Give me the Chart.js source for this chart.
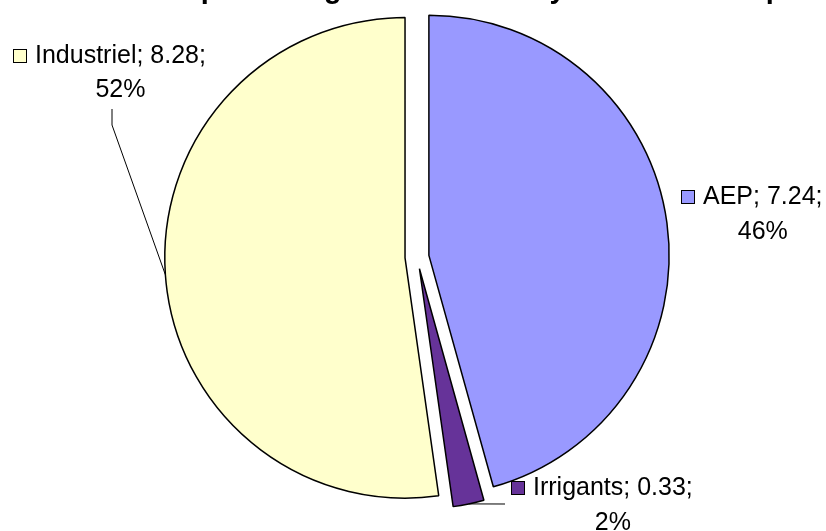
<!DOCTYPE html>
<html>
<head>
<meta charset="utf-8">
<script src="https://cdn.jsdelivr.net/npm/chart.js@4"></script>
<style>
  html, body { margin: 0; padding: 0; background: #fff; }
  #wrap { width: 826px; height: 531px; position: relative; }
</style>
</head>
<body>
<div id="wrap"><canvas id="pie" width="826" height="531"></canvas></div>
<script>
// Répartition par usage (Mm3)
const USAGES = ['AEP', 'Irrigants', 'Industriel'];
const VOLUMES = [7.24, 0.33, 8.28];
const COLORS = ['#9999FF', '#663399', '#FFFFCC'];
const TITLE = 'Répartition globale de la moyenne annuelle par usage';

const EXPLODE = 12; // px each slice is pulled out from the centre
const FONT = '25px "Liberation Sans", Arial, sans-serif';

// where each data label block sits (square top-left, text baseline)
const LABEL_LAYOUT = {
  'AEP':        { x: 681, y: 190, lineGap: 35 },
  'Irrigants':  { x: 511, y: 481, lineGap: 35 },
  'Industriel': { x: 13,  y: 49,  lineGap: 34 }
};

const total = VOLUMES.reduce((a, b) => a + b, 0);

// Excel style exploded pie: shift every arc along its bisector
const explodePlugin = {
  id: 'explode',
  afterDatasetUpdate(chart, args) {
    args.meta.data.forEach(arc => {
      const mid = (arc.startAngle + arc.endAngle) / 2;
      arc.x += Math.cos(mid) * EXPLODE;
      arc.y += Math.sin(mid) * EXPLODE;
    });
  }
};

const titlePlugin = {
  id: 'cutTitle',
  afterDraw(chart) {
    const ctx = chart.ctx;
    ctx.save();
    ctx.font = 'bold 28.8px "Liberation Sans", Arial, sans-serif';
    ctx.fillStyle = '#000';
    ctx.textBaseline = 'alphabetic';
    ctx.textAlign = 'left';
    ctx.fillText(TITLE, 164, -2.5);
    ctx.restore();
  }
};

const labelPlugin = {
  id: 'pieLabels',
  afterDraw(chart) {
    const ctx = chart.ctx;
    const arcs = chart.getDatasetMeta(0).data;
    ctx.save();
    ctx.font = FONT;
    ctx.fillStyle = '#000';
    ctx.strokeStyle = '#000';
    ctx.lineWidth = 1;

    arcs.forEach((arc, i) => {
      const name = USAGES[i];
      const lay = LABEL_LAYOUT[name];
      const mid = (arc.startAngle + arc.endAngle) / 2;
      const ex = arc.x + Math.cos(mid) * arc.outerRadius;
      const ey = arc.y + Math.sin(mid) * arc.outerRadius;

      // leader lines
      if (name === 'Industriel') {
        ctx.beginPath();
        ctx.moveTo(112, 109);
        ctx.lineTo(112, 125);
        ctx.lineTo(ex, ey);
        ctx.stroke();
      } else if (name === 'Irrigants') {
        ctx.beginPath();
        ctx.moveTo(ex, ey);
        ctx.lineTo(505, 504);
        ctx.stroke();
      }

      // legend key
      ctx.fillStyle = COLORS[i];
      ctx.fillRect(lay.x + 0.5, lay.y + 0.5, 13, 13);
      ctx.strokeRect(lay.x + 0.5, lay.y + 0.5, 13, 13);

      const line1 = `${name}; ${VOLUMES[i].toFixed(2)};`;
      const line2 = `${Math.round(VOLUMES[i] / total * 100)}%`;
      const tx = lay.x + 22;
      const base = lay.y + 14;
      const w1 = ctx.measureText(line1).width;

      ctx.fillStyle = '#000';
      ctx.textAlign = 'left';
      ctx.fillText(line1, tx, base);
      ctx.textAlign = 'center';
      ctx.fillText(line2, tx + w1 / 2, base + lay.lineGap);
    });
    ctx.restore();
  }
};

new Chart(document.getElementById('pie'), {
  type: 'pie',
  data: {
    labels: USAGES,
    datasets: [{
      data: VOLUMES,
      backgroundColor: COLORS,
      borderColor: '#000',
      borderWidth: 1.5,
      hoverBorderWidth: 1.5,
      hoverOffset: 0
    }]
  },
  options: {
    responsive: false,
    animation: false,
    events: [],
    layout: { padding: { top: 16, bottom: 33, left: 150, right: 142 } },
    plugins: {
      legend: { display: false },
      tooltip: { enabled: false },
      title: { display: false }
    }
  },
  plugins: [explodePlugin, labelPlugin, titlePlugin]
});
</script>
</body>
</html>
